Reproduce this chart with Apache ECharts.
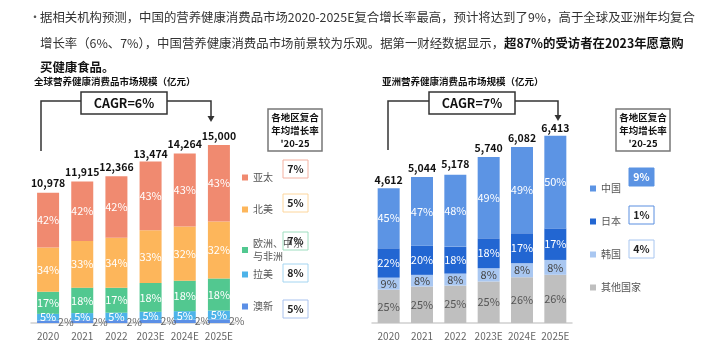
<!DOCTYPE html>
<html>
<head>
<meta charset="utf-8">
<script src="https://cdn.jsdelivr.net/npm/echarts@6/dist/echarts.min.js"></script>
<style>
  html, body { margin: 0; padding: 0; background: #fff; }
  #main { width: 702px; height: 354px; }
</style>
</head>
<body>
<div id="main"></div>
<script>
// data
var years = ['2020', '2021', '2022', '2023E', '2024E', '2025E'];

var globalTotal = [10978, 11915, 12366, 13474, 14264, 15000];
var globalApac  = [42, 42, 42, 43, 43, 43];
var globalNa    = [34, 33, 34, 33, 32, 32];
var globalEmea  = [17, 18, 17, 18, 18, 18];
var globalLatam = [5, 5, 5, 5, 5, 5];
var globalAnz   = [2, 2, 2, 2, 2, 2];
var globalRates = ['7%', '5%', '7%', '8%', '5%'];

var asiaTotal = [4612, 5044, 5178, 5740, 6082, 6413];
var asiaChina = [45, 47, 48, 49, 49, 50];
var asiaJapan = [22, 20, 18, 18, 17, 17];
var asiaKorea = [9, 8, 8, 8, 8, 8];
var asiaOther = [25, 25, 25, 25, 26, 26];
var asiaRates = ['9%', '1%', '4%'];

var FONT = '"Noto Sans CJK SC", "Microsoft YaHei", sans-serif';

// one stacked segment, value = total * share
function part(name, pcts, totals, color, ax, labelOpt) {
  return {
    name: name,
    type: 'bar',
    stack: 's' + ax,
    xAxisIndex: ax,
    yAxisIndex: ax,
    barWidth: 22,
    barGap: '-100%',
    itemStyle: { color: color },
    label: Object.assign({
      show: true,
      position: 'inside',
      color: '#fff',
      fontSize: 11,
      fontFamily: FONT,
      formatter: function (p) { return pcts[p.dataIndex] + '%'; }
    }, labelOpt || {}),
    data: totals.map(function (t, i) { return t * pcts[i] / 100; })
  };
}

// invisible bar behind the stack, only for the total label on top
function totals(vals, ax) {
  return {
    type: 'bar',
    xAxisIndex: ax,
    yAxisIndex: ax,
    barWidth: 22,
    barGap: '-100%',
    silent: true,
    z: 1,
    itemStyle: { color: 'rgba(0,0,0,0)' },
    label: {
      show: true,
      position: 'top',
      distance: 4,
      fontSize: 10.5,
      fontWeight: 'bold',
      color: '#111',
      fontFamily: FONT,
      formatter: function (p) { return vals[p.dataIndex].toLocaleString('en-US'); }
    },
    data: vals
  };
}

function leg(name, left, top) {
  return {
    data: [name],
    left: left,
    top: top,
    icon: 'rect',
    itemWidth: 6,
    itemHeight: 6,
    selectedMode: false,
    formatter: function (n) { return n === '欧洲、中东与非洲' ? '欧洲、中东\n与非洲' : n; },
    textStyle: { fontSize: 10, color: '#555', fontFamily: FONT, lineHeight: 13 }
  };
}

function txt(x, y, text, opt) {
  return {
    type: 'text', x: x, y: y,
    style: Object.assign({
      text: text, fontSize: 12, fill: '#333', fontFamily: FONT, verticalAlign: 'middle'
    }, opt || {})
  };
}

function box(x, y, w, h, stroke, fill, lw) {
  return {
    type: 'rect',
    shape: { x: x, y: y, width: w, height: h },
    style: { stroke: stroke, fill: fill || '#fff', lineWidth: lw || 1 }
  };
}

function cagr(bx, by, bw, label, lx, ly, rx, ry) {
  var midY = by + 9;
  return [
    { type: 'polyline', shape: { points: [[bx, midY], [lx, midY], [lx, ly]] }, style: { stroke: '#333', lineWidth: 1.5, fill: null } },
    { type: 'polyline', shape: { points: [[bx + bw, midY], [rx, midY], [rx, ry - 5]] }, style: { stroke: '#333', lineWidth: 1.5, fill: null } },
    { type: 'polygon', shape: { points: [[rx - 3.5, ry - 6], [rx + 3.5, ry - 6], [rx, ry]] }, style: { fill: '#333' } },
    box(bx, by, bw, 22, '#333', '#fff', 1.5),
    txt(bx + bw / 2, by + 11, label, { align: 'center', fontSize: 12.5, fontWeight: 'bold', fill: '#111' })
  ];
}

function header(x, y) {
  return [
    box(x, y, 54, 42, '#777', '#fff', 1.5),
    txt(x + 27, y + 21, '各地区复合\n年均增长率\n\'20-25', { align: 'center', fontSize: 9.5, fontWeight: 'bold', fill: '#111', lineHeight: 13 })
  ];
}

function rateBox(x, cy, text, stroke, fill, color) {
  return [
    box(x, cy - 9, 25, 18, stroke, fill || '#fff', 1),
    txt(x + 12.5, cy, text, { align: 'center', fontSize: 10.5, fontWeight: 'bold', fill: color || '#222' })
  ];
}

var graphics = [
  txt(29, 17, '•', { fontSize: 12, fill: '#555' }),
  txt(40, 17, '据相关机构预测，中国的营养健康消费品市场2020-2025E复合增长率最高，预计将达到了9%，高于全球及亚洲年均复合', { fontSize: 12.4 }),
  txt(40, 43, '{n|增长率（6%、7%），中国营养健康消费品市场前景较为乐观。据第一财经数据显示，}{b|超87%的受访者在2023年愿意购}', {
    rich: {
      n: { fontSize: 12.4, fill: '#333', fontFamily: FONT },
      b: { fontSize: 12.4, fill: '#111', fontWeight: 'bold', fontFamily: FONT }
    }
  }),
  txt(40, 67, '买健康食品。', { fontSize: 12.4, fontWeight: 'bold', fill: '#111' }),
  txt(34, 81, '全球营养健康消费品市场规模（亿元）', { fontSize: 9.5, fontWeight: 'bold', fill: '#111' }),
  txt(382, 81, '亚洲营养健康消费品市场规模（亿元）', { fontSize: 9.5, fontWeight: 'bold', fill: '#111' })
]
  .concat(cagr(81, 92, 86, 'CAGR=6%', 41, 151, 211, 122))
  .concat(cagr(429, 92, 86, 'CAGR=7%', 388, 150, 558, 121))
  .concat(header(268, 109))
  .concat(header(616, 109))
  .concat(rateBox(283, 169, globalRates[0], '#F4B1A1'))
  .concat(rateBox(283, 203, globalRates[1], '#FDD69C'))
  .concat(rateBox(283, 241, globalRates[2], '#9EDEBF'))
  .concat(rateBox(283, 273, globalRates[3], '#A4D5F1'))
  .concat(rateBox(283, 309, globalRates[4], '#A9C2EE'))
  .concat(rateBox(629, 177, asiaRates[0], '#5B93E3', '#5B93E3', '#fff'))
  .concat(rateBox(629, 215, asiaRates[1], '#5B8FE0'))
  .concat(rateBox(629, 249, asiaRates[2], '#A8C6F0'));

function xAx(i) {
  return {
    type: 'category',
    gridIndex: i,
    data: years,
    axisTick: { show: false },
    axisLine: { lineStyle: { color: '#d0d0d0', width: 1.5 } },
    axisLabel: { interval: 0, color: '#666', fontSize: 10, margin: 8, fontFamily: FONT }
  };
}

var option = {
  animation: false,
  backgroundColor: '#fff',
  grid: [
    { left: 31, top: 133, width: 205, height: 190 },
    { left: 372, top: 135, width: 200, height: 188 }
  ],
  xAxis: [xAx(0), xAx(1)],
  yAxis: [
    { type: 'value', gridIndex: 0, min: 0, max: 16000, show: false },
    { type: 'value', gridIndex: 1, min: 0, max: 6500, show: false }
  ],
  legend: [
    leg('亚太', 237, 166),
    leg('北美', 237, 198),
    leg('欧洲、中东与非洲', 237, 232),
    leg('拉美', 237, 263),
    leg('澳新', 237, 295),
    leg('中国', 585, 177),
    leg('日本', 585, 210),
    leg('韩国', 585, 243),
    leg('其他国家', 585, 276)
  ],
  series: [
    part('澳新', globalAnz, globalTotal, '#5B8FE6', 0, { position: 'right', distance: -1, color: '#666', fontSize: 10.5 }),
    part('拉美', globalLatam, globalTotal, '#4DB3E9', 0),
    part('欧洲、中东与非洲', globalEmea, globalTotal, '#52C890', 0),
    part('北美', globalNa, globalTotal, '#FDB65B', 0),
    part('亚太', globalApac, globalTotal, '#F08A70', 0),
    totals(globalTotal, 0),
    part('其他国家', asiaOther, asiaTotal, '#BFBFBF', 1, { color: '#555' }),
    part('韩国', asiaKorea, asiaTotal, '#A9C7F1', 1, { color: '#444' }),
    part('日本', asiaJapan, asiaTotal, '#2266D2', 1),
    part('中国', asiaChina, asiaTotal, '#5C94E4', 1),
    totals(asiaTotal, 1)
  ],
  graphic: graphics
};

var chart = echarts.init(document.getElementById('main'));
chart.setOption(option);
</script>
</body>
</html>
